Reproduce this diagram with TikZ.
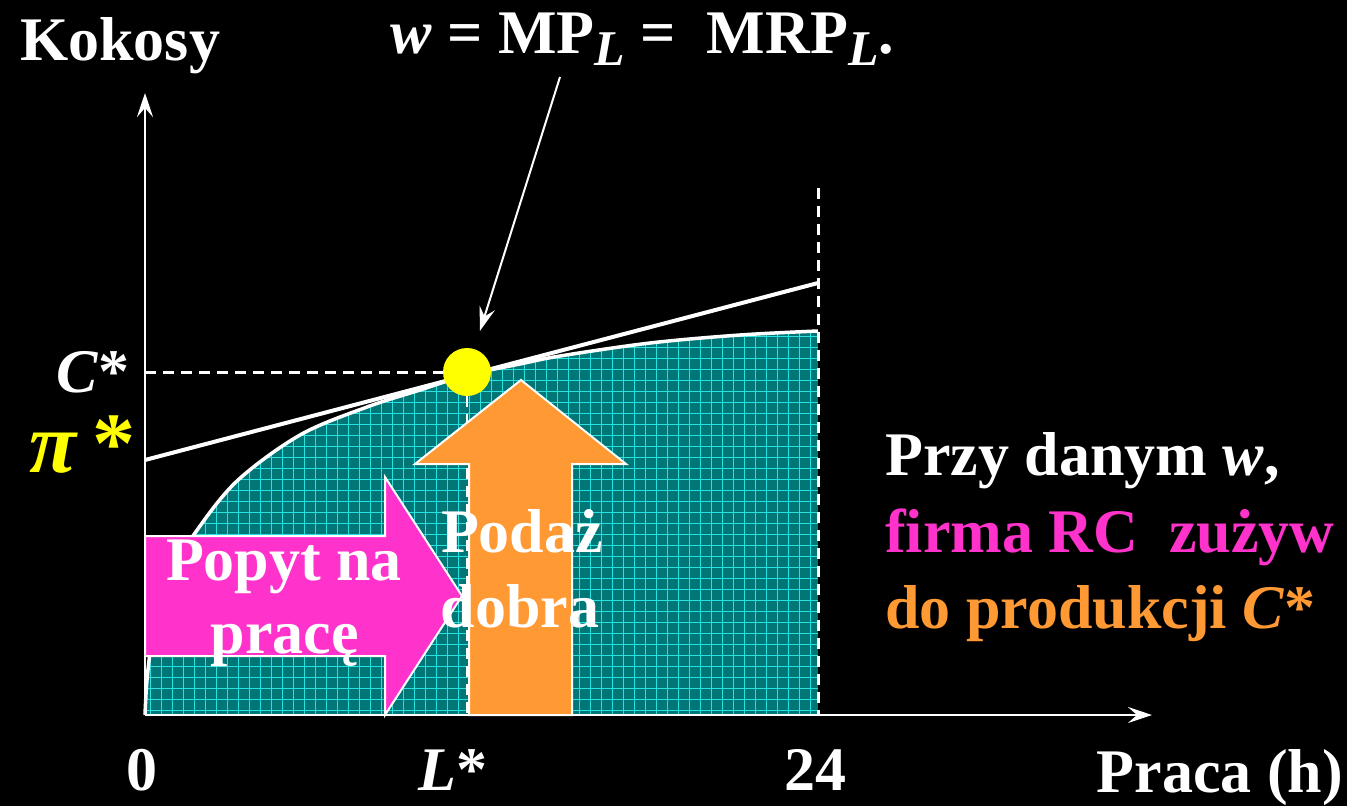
\documentclass[tikz,border=0pt]{standalone}
\usepackage{fontspec}
\setmainfont{Liberation Serif}
\usepackage{tikz}
\usetikzlibrary{arrows.meta,positioning,calc}

\definecolor{areateal}{RGB}{0,118,118}
\definecolor{gridcyan}{RGB}{40,225,225}
\definecolor{demandpink}{RGB}{255,51,204}
\definecolor{supplyorange}{RGB}{255,153,51}
\definecolor{optyellow}{RGB}{255,255,0}

\newcommand{\subL}{\raisebox{-12pt}{\fontsize{50}{50}\selectfont\textit{L}}}
\newcommand{\prodcurve}{plot[smooth, tension=0.55] coordinates {(145,715) (147,680) (152,640) (162,600) (175,568) (195,533) (237,481) (300,435) (367,407) (420,390) (467,375) (520,364) (560,356) (650,343) (740,335) (818,331)}}

\begin{document}
\begin{tikzpicture}[x=1pt, y=-1pt,
  every node/.style={inner sep=0pt, text=white, font=\fontsize{62}{74}\selectfont\bfseries},
  axisln/.style={draw=white, line width=2.5pt, -{Stealth[length=24pt, width=16pt, inset=9pt]}},
  dashln/.style={draw=white, line width=3pt, dash pattern=on 11pt off 7pt},
  gridln/.style={draw=gridcyan, line width=0.8pt},
  bigarrow/.style={draw=white, line width=2pt}]

% background and frame
\fill[black] (0,0) rectangle (1347,806);
\useasboundingbox (0,0) rectangle (1347,806);

% shaded output area
\begin{scope}
  \clip \prodcurve -- (818,715) -- cycle;
  \fill[areateal] (145,320) rectangle (818,715);
  \foreach \gx in {150,161,...,818} \draw[gridln] (\gx,320) -- (\gx,715);
  \foreach \gy in {710,699,...,320} \draw[gridln] (145,\gy) -- (818,\gy);
\end{scope}
\draw[white, line width=3.5pt] \prodcurve;

% 24 hours
\draw[dashln] (818,188) -- (818,715);

% iso-profit line
\coordinate (isoA) at (145,460);
\coordinate (isoB) at (818,283);
\draw[white, line width=4pt] (isoA) -- (isoB);

% axes
\coordinate (O) at (145,715);
\coordinate (ytop) at (145,93);
\coordinate (xend) at (1152,715);
\draw[axisln] (O) -- (ytop);
\draw[axisln] (O) -- (xend);

% optimum
\node[circle, fill=optyellow, minimum size=48pt] (opt) at (467,372) {};
\draw[dashln] (145,372) -- (opt.west);
\draw[white, line width=2pt, dash pattern=on 11pt off 7pt] (opt.south) -- (467,715);

% labour demand arrow
\draw[bigarrow, fill=demandpink] (145,536) -- (385,536) -- (385,477) -- (462,596)
  -- (385,715) -- (385,656) -- (145,656) -- cycle;

% goods supply arrow
\draw[bigarrow, fill=supplyorange] (469,715) -- (469,464) -- (415,464) -- (521,380)
  -- (626,464) -- (572,464) -- (572,715) -- cycle;

% pointer to optimum
\coordinate (ptr) at (560,77);
\draw[white, line width=2pt, -{Stealth[length=24pt, width=16pt, inset=9pt]}, shorten >=19pt] (ptr) -- (opt);

% labels
\node[anchor=base west] (kokosy) at (20,60) {Kokosy};
\node[anchor=base west] (cond) at (390,53) {\textit{w} = MP\subL{} = \ MRP\subL.};
\node[anchor=base east] (cstar) at (130,392) {\textit{C}*};
\node[anchor=base east, text=optyellow, font=\fontsize{86}{86}\selectfont\bfseries] (pistar) at (136,472) {\textit{π}\,*};
\node[anchor=base] (zero) at (142,790) {0};
\node[anchor=base] (lstar) at (453,790) {\textit{L}*};
\node[anchor=base] (hours) at (815,790) {24};
\node[anchor=base east] (praca) at (1343,792) {Praca (h)};

\node[anchor=base] (popyt1) at (284,580) {Popyt na};
\node[anchor=base] (popyt2) at (285,653) {pracę};
\node[anchor=base] (podaz1) at (522,552) {Podaż};
\node[anchor=base] (podaz2) at (520,627) {dobra};

\node[anchor=base west] (note1) at (885,475) {Przy danym \textit{w},};
\node[anchor=base west, text=demandpink] (note2) at (885,552) {firma RC \ zużyw};
\node[anchor=base west, text=supplyorange] (note3) at (885,628) {do produkcji \textit{C}*};

\end{tikzpicture}
\end{document}
